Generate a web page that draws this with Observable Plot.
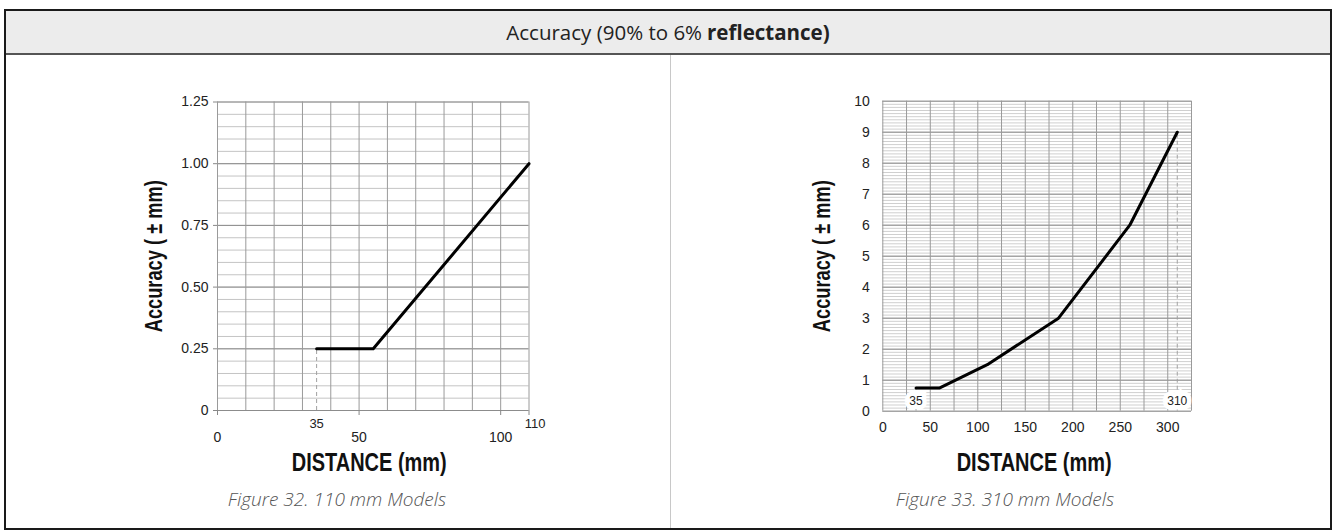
<!DOCTYPE html>
<html>
<head>
<meta charset="utf-8">
<script src="https://cdn.jsdelivr.net/npm/d3@7"></script>
<script src="https://cdn.jsdelivr.net/npm/@observablehq/plot@0.6"></script>
<style>
html, body { margin: 0; padding: 0; background: #fff; width: 1336px; height: 531px; overflow: hidden; }
#frame { position: absolute; left: 4px; top: 9px; width: 1328px; height: 521px; box-sizing: border-box; border: 2px solid #1a1a1a; }
#header { position: absolute; left: 0; top: 0; right: 0; height: 42px; background: #ececec; border-bottom: 2px solid #555;
  font-family: "Open Sans", sans-serif; font-size: 20.5px; color: #222; display: flex; align-items: center; justify-content: center; }
#header b { font-weight: 700; margin-left: 5px; }
#divider { position: absolute; left: 664px; top: 44px; bottom: 0; width: 1px; background: #c8c8c8; }
.caption { position: absolute; font-family: "Open Sans", sans-serif; font-style: italic; font-weight: 300; font-size: 19px;
  line-height: 20px; color: #555; transform: translateX(-50%); white-space: nowrap; }
</style>
</head>
<body>
<div id="frame">
  <div id="header">Accuracy (90% to 6%<b>reflectance)</b></div>
  <div id="divider"></div>
</div>
<div class="caption" id="cap1" style="left:337px; top:489px;"></div>
<div class="caption" id="cap2" style="left:1005px; top:489px;"></div>
<script>
// ---- data ----
const xTitle = "DISTANCE (mm)";
const yTitle = "Accuracy ( \u00b1 mm)";
const captions = ["Figure 32. 110 mm Models", "Figure 33. 310 mm Models"];

// Figure 32 (110 mm models)
const leftDistance = [35, 55, 110];
const leftAccuracy = [0.25, 0.25, 1.0];
const leftYTicks = [0, 0.25, 0.5, 0.75, 1.0, 1.25];
const leftYTickLabels = ["0", "0.25", "0.50", "0.75", "1.00", "1.25"];
const leftXTicks = [0, 50, 100];
const leftXMarked = [35, 110];

// Figure 33 (310 mm models)
const rightDistance = [35, 60, 110, 185, 260, 310];
const rightAccuracy = [0.75, 0.75, 1.5, 3, 6, 9];
const rightYTicks = [0, 1, 2, 3, 4, 5, 6, 7, 8, 9, 10];
const rightXTicks = [0, 50, 100, 150, 200, 250, 300];
const rightXMarked = [35, 310];

document.getElementById("cap1").textContent = captions[0];
document.getElementById("cap2").textContent = captions[1];

const font = "'Liberation Sans', Arial, sans-serif";

function squeeze(svg, text, len) {
  d3.select(svg).selectAll("text").each(function () {
    if (this.textContent === text) {
      this.setAttribute("textLength", len);
      this.setAttribute("lengthAdjust", "spacingAndGlyphs");
    }
  });
}

function place(svg, left) {
  svg.style.position = "absolute";
  svg.style.left = left + "px";
  svg.style.top = "0px";
  svg.style.background = "transparent";
  svg.style.overflow = "visible";
  document.body.appendChild(svg);
}

// ---- left chart ----
const leftData = leftDistance.map((d, i) => ({distance: d, accuracy: leftAccuracy[i]}));
const left = Plot.plot({
  width: 668, height: 480,
  marginLeft: 217, marginRight: 139.5, marginTop: 101.5, marginBottom: 70,
  x: {domain: [0, 110], label: null},
  y: {domain: [0, 1.25], label: null},
  style: {background: "transparent", fontFamily: font, overflow: "visible"},
  marks: [
    Plot.ruleY(d3.range(0, 1.2501, 0.05), {stroke: "#c4c4c4"}),
    Plot.ruleY(leftYTicks, {stroke: "#8c8c8c"}),
    Plot.ruleX(d3.range(0, 111, 10), {stroke: "#9a9a9a"}),
    Plot.ruleX([leftDistance[0]], {y1: 0, y2: leftAccuracy[0], stroke: "#a0a0a0", strokeDasharray: "4,3"}),
    Plot.line(leftData, {x: "distance", y: "accuracy", stroke: "black", strokeWidth: 3}),
    Plot.axisY(leftYTicks, {tickSize: 4, tickPadding: 5, fontSize: 14, stroke: "#888", color: "#222",
      tickFormat: d => leftYTickLabels[leftYTicks.indexOf(d)]}),
    Plot.axisX([...leftXTicks, leftXMarked[1]], {tickSize: 5, tickFormat: () => "", stroke: "#888"}),
    Plot.axisX(leftXTicks, {tickSize: 0, tickPadding: 22, fontSize: 14, color: "#222"}),
    Plot.axisX([leftXMarked[0]], {tickSize: 0, tickPadding: 8, fontSize: 13, color: "#222"}),
    Plot.axisX([leftXMarked[1]], {tickSize: 0, tickPadding: 8, fontSize: 13, color: "#222", dx: 6}),
    Plot.text([yTitle], {frameAnchor: "left", rotate: -90, dx: -63, textAnchor: "middle", lineAnchor: "middle",
      fontSize: 24, fontWeight: "bold", fill: "#111"}),
    Plot.text([xTitle], {frameAnchor: "bottom", dy: 52.5, dx: -4, textAnchor: "middle", lineAnchor: "middle",
      fontSize: 25, fontWeight: "bold", fill: "#111"})
  ]
});
squeeze(left, yTitle, 152);
squeeze(left, xTitle, 155);
place(left, 0);

// ---- right chart ----
const rightData = rightDistance.map((d, i) => ({distance: d, accuracy: rightAccuracy[i]}));
const right = Plot.plot({
  width: 668, height: 480,
  marginLeft: 214.3, marginRight: 145, marginTop: 100.7, marginBottom: 69.3,
  x: {domain: [0, 325], label: null},
  y: {domain: [0, 10], label: null},
  style: {background: "transparent", fontFamily: font, overflow: "visible"},
  marks: [
    Plot.ruleY(d3.range(0, 10.001, 0.1), {stroke: "#cfcfcf"}),
    Plot.ruleY(rightYTicks, {stroke: "#8c8c8c"}),
    Plot.ruleX(d3.range(0, 326, 25), {stroke: "#9a9a9a"}),
    Plot.ruleX([rightDistance[0]], {y1: 0, y2: rightAccuracy[0], stroke: "#a0a0a0", strokeDasharray: "4,3"}),
    Plot.ruleX([rightDistance[rightDistance.length - 1]], {y1: 0, y2: rightAccuracy[rightAccuracy.length - 1],
      stroke: "#a0a0a0", strokeDasharray: "4,3"}),
    Plot.text(rightXMarked, {x: d => d, frameAnchor: "bottom", dy: -10.5, lineAnchor: "middle", text: d => String(d),
      fontSize: 12, fill: "#222", stroke: "white", strokeWidth: 9, strokeLinejoin: "miter"}),
    Plot.line(rightData, {x: "distance", y: "accuracy", stroke: "black", strokeWidth: 3}),
    Plot.axisY(rightYTicks, {tickSize: 0, tickPadding: 13, fontSize: 14, color: "#222"}),
    Plot.axisX(rightXTicks, {tickSize: 0, tickPadding: 11, fontSize: 14, color: "#222"}),
    Plot.text([yTitle], {frameAnchor: "left", rotate: -90, dx: -60, textAnchor: "middle", lineAnchor: "middle",
      fontSize: 24, fontWeight: "bold", fill: "#111"}),
    Plot.text([xTitle], {frameAnchor: "bottom", dy: 52, dx: -3, textAnchor: "middle", lineAnchor: "middle",
      fontSize: 25, fontWeight: "bold", fill: "#111"})
  ]
});
squeeze(right, yTitle, 152);
squeeze(right, xTitle, 155);
place(right, 668);
</script>
</body>
</html>
